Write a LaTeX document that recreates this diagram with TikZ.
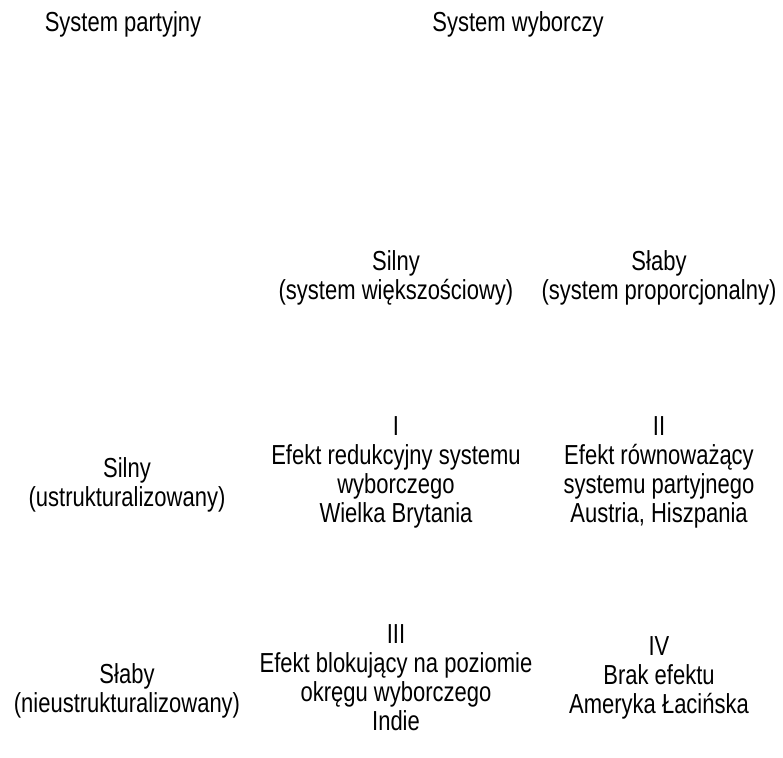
\documentclass[tikz,border=0pt]{standalone}
\usepackage{fontspec}
\setmainfont{Liberation Sans}[FakeStretch=0.8]
\begin{document}
\begin{tikzpicture}[x=1pt,y=-1pt,
  lbl/.style={align=center,inner sep=0pt,font=\fontsize{27.5}{29}\selectfont}]
\useasboundingbox (0,0) rectangle (783,757);
\node[lbl] (sp) at (123,24) {System partyjny};
\node[lbl] (sw) at (518,24) {System wyborczy};
\node[lbl] (c1) at (396,278) {Silny\\(system większościowy)};
\node[lbl] (c2) at (659,278) {Słaby\\(system proporcjonalny)};
\node[lbl] (r1) at (127,485) {Silny\\(ustrukturalizowany)};
\node[lbl] (r2) at (127,691) {Słaby\\(nieustrukturalizowany)};
\node[lbl] (q1) at (396,472) {I\\Efekt redukcyjny systemu\\wyborczego\\Wielka Brytania};
\node[lbl] (q2) at (659,472) {II\\Efekt równoważący\\systemu partyjnego\\Austria, Hiszpania};
\node[lbl] (q3) at (396,678) {III\\Efekt blokujący na poziomie\\okręgu wyborczego\\Indie};
\node[lbl] (q4) at (659,678) {IV\\Brak efektu\\Ameryka Łacińska};
\end{tikzpicture}
\end{document}
